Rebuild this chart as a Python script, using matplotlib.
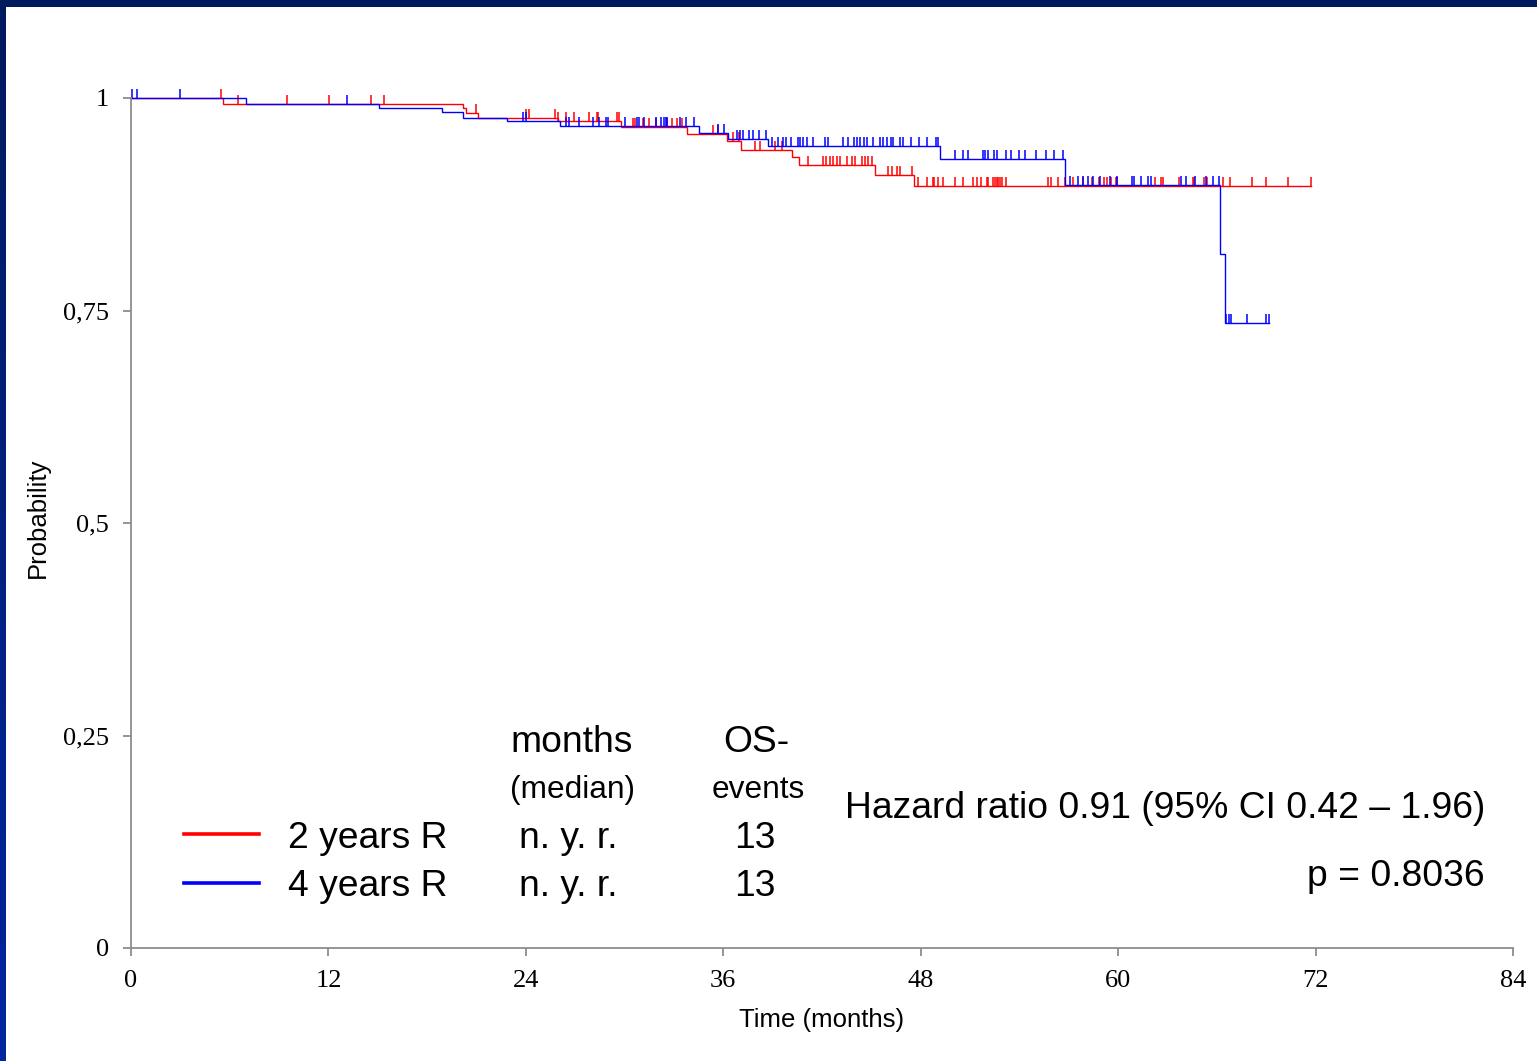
import numpy as np
import matplotlib
matplotlib.use("Agg")
import matplotlib.pyplot as plt
from matplotlib.lines import Line2D
from matplotlib.colors import LinearSegmentedColormap

# ---- Kaplan-Meier data (months, survival probability) ----
red_event_t = [5.6, 20.2, 20.35, 21.1, 25.95, 29.8, 33.8, 36.2, 37.1, 40.2, 40.6, 45.2, 47.6]
red_event_s = [0.9925, 0.9886, 0.982, 0.976, 0.9725, 0.9655, 0.9576, 0.9498, 0.9388,
               0.931, 0.9212, 0.9094, 0.8965]
red_end = 71.72
red_censor = [5.47, 6.52, 9.46, 12.02, 14.57, 15.36, 20.97, 23.99, 24.19, 25.77, 25.97,
              26.42, 26.93, 27.86, 28.31, 28.40, 29.56, 29.66, 30.53, 30.63, 31.14, 31.49,
              31.89, 32.56, 32.87, 33.17, 33.47, 35.39, 35.70, 36.61, 36.98, 37.93, 38.23,
              39.14, 39.55, 41.17, 42.08, 42.24, 42.49, 42.69, 42.89, 43.09, 43.50, 43.81,
              44.01, 44.41, 44.61, 44.82, 45.02, 46.03, 46.24, 46.54, 46.74, 47.45, 47.85,
              48.37, 48.73, 48.81, 49.07, 49.34, 50.08, 50.59, 51.16, 51.41, 51.67, 52.01,
              52.11, 52.41, 52.52, 52.62, 52.72, 52.82, 52.92, 53.18, 55.76, 55.90, 56.36,
              56.77, 57.27, 57.88, 58.39, 58.86, 59.14, 59.34, 59.55, 59.87, 59.95, 62.24,
              62.61, 62.71, 63.72, 64.53, 64.63, 65.22, 65.38, 66.36, 66.80, 68.12, 68.97,
              70.35, 71.72]

blue_event_t = [7.0, 15.1, 18.9, 20.2, 22.85, 26.1, 34.5, 36.3, 38.7, 49.2, 56.75, 66.2, 66.5]
blue_event_s = [0.9925, 0.9886, 0.983, 0.977, 0.9733, 0.9674, 0.9584, 0.9514, 0.9435,
                0.9278, 0.8976, 0.816, 0.7349]
blue_end = 69.19
blue_censor = [0.04, 0.35, 2.98, 13.11, 23.81, 24.01, 26.44, 26.62, 27.25, 28.06, 28.46,
               28.87, 29.01, 30.01, 30.74, 30.90, 31.18, 31.91, 32.20, 32.40, 32.50, 32.56,
               33.37, 33.73, 34.22, 35.70, 36.06, 36.82, 37.02, 37.22, 37.58, 37.82, 38.19,
               38.60, 38.94, 39.34, 39.65, 39.81, 40.10, 40.52, 40.66, 40.83, 41.07, 41.47,
               42.18, 42.38, 43.30, 43.60, 43.95, 44.11, 44.31, 44.55, 44.72, 45.12, 45.52,
               45.69, 45.93, 46.18, 46.33, 46.74, 46.94, 47.39, 47.92, 48.40, 48.93, 49.07,
               50.08, 50.55, 50.86, 51.80, 51.91, 52.11, 52.47, 52.62, 53.18, 53.47, 53.99,
               54.34, 55.01, 55.62, 56.10, 56.65, 57.07, 57.58, 57.85, 58.19, 58.49, 58.90,
               59.51, 59.91, 60.83, 60.96, 61.37, 61.83, 61.98, 63.82, 64.12, 64.67, 65.34,
               65.75, 66.15, 66.57, 66.73, 66.88, 67.86, 68.97, 69.19]

x_ticks = [0, 12, 24, 36, 48, 60, 72, 84]
y_ticks = [0, 0.25, 0.5, 0.75, 1]
y_ticklabels = ["0", "0,25", "0,5", "0,75", "1"]

groups = ["2 years R", "4 years R"]
medians = ["n. y. r.", "n. y. r."]
events = ["13", "13"]
colors = ["#ff0000", "#0000ff"]

hazard_text = "Hazard ratio 0.91 (95% CI 0.42 \u2013 1.96)"
p_text = "p = 0.8036"

# ---- figure ----
W, H = 1537, 1061
fig = plt.figure(figsize=(W / 100, H / 100), dpi=100)
fig.patch.set_facecolor("white")


def fx(px):
    return px / W


def fy(py):
    return 1 - py / H


ax = fig.add_axes([fx(131), fy(948), (1513 - 131) / W, (948 - 98) / H])
ax.set_xlim(0, 84)
ax.set_ylim(0, 1)


def km_curve(ax, ev_t, ev_s, end, cens, color):
    xs = [0.0] + list(ev_t) + [end]
    ys = [1.0] + list(ev_s) + [ev_s[-1]]
    ax.plot(xs, ys, drawstyle="steps-post", color=color, lw=1.0, clip_on=False,
            solid_joinstyle="miter")
    levels = np.array([1.0] + list(ev_s))
    idx = np.searchsorted(np.array(ev_t), np.array(cens), side="right")
    cy = levels[idx]
    ax.vlines(cens, cy, cy + 0.0105, color=color, lw=1.1, clip_on=False)


km_curve(ax, red_event_t, red_event_s, red_end, red_censor, colors[0])
km_curve(ax, blue_event_t, blue_event_s, blue_end, blue_censor, colors[1])

for side in ["top", "right"]:
    ax.spines[side].set_visible(False)
for side in ["left", "bottom"]:
    ax.spines[side].set_color("#8c8c8c")
    ax.spines[side].set_linewidth(1.3)

ax.set_xticks(x_ticks)
ax.set_xticklabels([str(t) for t in x_ticks])
ax.set_yticks(y_ticks)
ax.set_yticklabels(y_ticklabels)
ax.tick_params(axis="both", direction="out", length=5.5, width=1.3, color="#8c8c8c",
               labelsize=19, labelcolor="black")
ax.tick_params(axis="x", pad=10.5)
ax.tick_params(axis="y", pad=10.5)
for lab in ax.get_xticklabels() + ax.get_yticklabels():
    lab.set_fontfamily("Liberation Serif")

sans = "Liberation Sans"
fig.text(fx(38), fy(518), "Probability", rotation=90, ha="center", va="center",
         fontsize=18.5, family=sans)
fig.text(fx(822), fy(1020), "Time (months)", ha="center", va="center",
         fontsize=18.5, family=sans)

# table of medians and events
fig.text(fx(510), fy(743), "months", ha="left", va="center", fontsize=26.8, family=sans)
fig.text(fx(510), fy(790), "(median)", ha="left", va="center", fontsize=22.8, family=sans)
fig.text(fx(756), fy(743), "OS-", ha="center", va="center", fontsize=26.8, family=sans)
fig.text(fx(758), fy(790), "events", ha="center", va="center", fontsize=22.8, family=sans)

row_y = [838, 887]
for i in range(2):
    fig.add_artist(Line2D([fx(184), fx(259)], [fy(row_y[i] - 4), fy(row_y[i] - 4)],
                          transform=fig.transFigure, color=colors[i], lw=2.6))
    fig.text(fx(288), fy(row_y[i]), groups[i], ha="left", va="center",
             fontsize=26.8, family=sans)
    fig.text(fx(568), fy(row_y[i]), medians[i], ha="center", va="center",
             fontsize=26.8, family=sans)
    fig.text(fx(755), fy(row_y[i]), events[i], ha="center", va="center",
             fontsize=26.8, family=sans)

fig.text(fx(1485), fy(808), hazard_text, ha="right", va="center", fontsize=26.8, family=sans)
fig.text(fx(1485), fy(876), p_text, ha="right", va="center", fontsize=26.8, family=sans)

# frame bands along the top and left edges
fig.patches.append(plt.Rectangle((0, fy(7)), 1, 7 / H, transform=fig.transFigure,
                                 facecolor="#001a5e", edgecolor="none", zorder=5))
band = fig.add_axes([0, 0, 6 / W, 1])
cmap = LinearSegmentedColormap.from_list("band", ["#001a5e", "#0026a0"])
band.imshow(np.linspace(0, 1, 256).reshape(-1, 1), aspect="auto", cmap=cmap,
            extent=[0, 1, 0, 1], origin="upper")
band.axis("off")

fig.savefig("out.png", dpi=100)
